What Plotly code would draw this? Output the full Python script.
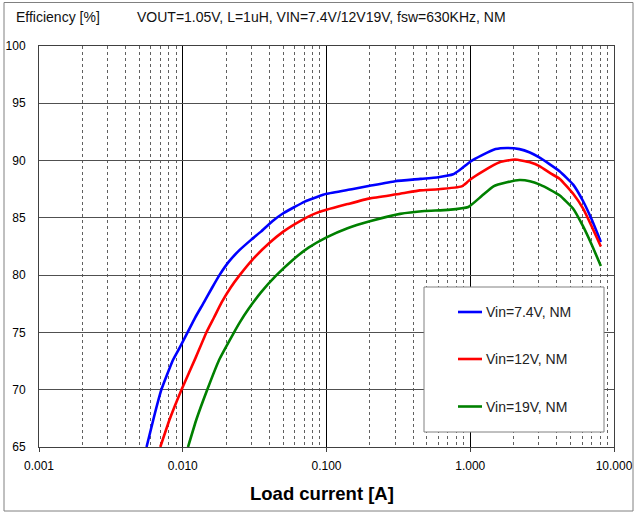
import plotly.graph_objects as go

W, H = 638, 514
ML, MR, MT, MB = 39, 24, 46, 67
PW, PH = W - ML - MR, H - MT - MB

# ---------------- data ----------------
series_names = ["Vin=7.4V, NM", "Vin=12V, NM", "Vin=19V, NM"]
series_colors = ["#0000FF", "#FF0000", "#008000"]

load_74 = [0.0056, 0.0063, 0.0071, 0.00855, 0.0095, 0.0108, 0.0122, 0.014, 0.016, 0.018, 0.021,
           0.0249, 0.03, 0.035, 0.042, 0.05, 0.06, 0.07, 0.085,
           0.1, 0.15, 0.2, 0.3, 0.45, 0.6, 0.76, 0.85, 1.0, 1.2, 1.5, 1.8, 2.2, 2.6,
           3.0, 3.6, 4.2, 5.2, 6.1, 7.0, 8.1]
eff_74 = [65.0, 67.6, 70.0, 72.6, 73.65, 75.0, 76.3, 77.6, 78.9, 80.0, 81.2,
          82.2, 83.1, 83.8, 84.7, 85.4, 85.95, 86.4, 86.8,
          87.1, 87.5, 87.8, 88.2, 88.4, 88.55, 88.8, 89.2, 89.9, 90.45, 91.0, 91.1, 91.0, 90.7,
          90.3, 89.65, 89.05, 87.9, 86.45, 84.85, 82.9]

load_12 = [0.00698, 0.0081, 0.0098, 0.0123, 0.0146, 0.0165, 0.0186, 0.0215, 0.0249, 0.0308,
           0.04, 0.05, 0.065, 0.0807,
           0.1, 0.14, 0.2, 0.325, 0.446, 0.6, 0.87, 0.95, 1.0, 1.2, 1.6, 2.05, 2.6, 3.05, 3.6,
           4.2, 5.2, 6.1, 7.0, 8.1]
eff_12 = [65.0, 67.4, 70.0, 72.8, 75.0, 76.3, 77.6, 78.9, 80.0, 81.4,
          82.8, 83.8, 84.7, 85.3,
          85.7, 86.2, 86.7, 87.1, 87.4, 87.5, 87.75, 88.1, 88.35, 89.0, 89.85, 90.1, 89.85, 89.5, 88.9,
          88.4, 87.1, 85.8, 84.25, 82.5]

load_19 = [0.01088, 0.01244, 0.0148, 0.0179, 0.0225, 0.025, 0.0285, 0.035, 0.0449, 0.0585,
           0.075, 0.1, 0.14, 0.2,
           0.325, 0.48, 0.7, 0.97, 1.2, 1.45, 1.8, 2.2, 2.6, 3.05, 3.6, 4.2, 5.2, 6.1,
           7.0, 8.1]
eff_19 = [65.0, 67.4, 70.0, 72.6, 74.9, 75.9, 77.0, 78.5, 80.0, 81.35,
          82.4, 83.3, 84.1, 84.7,
          85.35, 85.6, 85.7, 85.95, 86.9, 87.75, 88.1, 88.3, 88.2, 87.9, 87.45, 86.95, 85.8, 84.25,
          82.65, 80.8]

x_tick_vals = [0.001, 0.01, 0.1, 1, 10]
x_tick_text = ["0.001", "0.010", "0.100", "1.000", "10.000"]
y_tick_vals = [65, 70, 75, 80, 85, 90, 95, 100]
y_tick_text = ["65", "70", "75", "80", "85", "90", "95", "100"]

x_title = "Load current [A]"
y_title = "Efficiency [%]"
chart_title = "VOUT=1.05V, L=1uH, VIN=7.4V/12V19V, fsw=630KHz, NM"

loads = [load_74, load_12, load_19]
effs = [eff_74, eff_12, eff_19]

# minor grid positions (2..9 within each decade)
x_minor_vals = [m * d for d in x_tick_vals[:-1] for m in range(2, 10)]

FONT = "Liberation Sans, Arial, sans-serif"


def px(xp):
    return (xp - ML) / PW


def py(yp):
    return (H - MB - yp) / PH


fig = go.Figure()
for name, color, xs, ys in zip(series_names, series_colors, loads, effs):
    fig.add_trace(go.Scatter(
        x=xs, y=ys, name=name, mode="lines",
        line=dict(color=color, width=2.6, shape="spline", smoothing=0.4),
        showlegend=False, cliponaxis=True, hoverinfo="skip",
    ))

shapes = []
annotations = []

# outer frame
shapes.append(dict(type="rect", xref="paper", yref="paper",
                   x0=px(4), x1=px(633), y0=py(2.5), y1=py(511),
                   line=dict(color="#808080", width=1), fillcolor="rgba(0,0,0,0)",
                   layer="above"))

# legend box (manual)
shapes.append(dict(type="rect", xref="paper", yref="paper",
                   x0=px(424), x1=px(604), y0=py(287), y1=py(432),
                   line=dict(color="#808080", width=1), fillcolor="white",
                   layer="above"))
legend_rows = [312, 359, 406.5]
for name, color, ry in zip(series_names, series_colors, legend_rows):
    shapes.append(dict(type="line", xref="paper", yref="paper",
                       x0=px(458), x1=px(482), y0=py(ry), y1=py(ry),
                       line=dict(color=color, width=2.6), layer="above"))
    annotations.append(dict(text=name, xref="paper", yref="paper",
                            x=px(484), y=py(ry), xanchor="left", yanchor="middle",
                            showarrow=False,
                            font=dict(family=FONT, size=14, color="#222222")))

# top texts
annotations.append(dict(text=y_title, xref="paper", yref="paper",
                        x=px(14), y=py(17), xanchor="left", yanchor="middle",
                        showarrow=False, font=dict(family=FONT, size=14, color="#111111")))
annotations.append(dict(text=chart_title, xref="paper", yref="paper",
                        x=px(135), y=py(17), xanchor="left", yanchor="middle",
                        showarrow=False, font=dict(family=FONT, size=14, color="#111111")))
# x-axis title
annotations.append(dict(text="<b>" + x_title + "</b>", xref="paper", yref="paper",
                        x=px(322), y=py(494), xanchor="center", yanchor="middle",
                        showarrow=False, font=dict(family=FONT, size=18.5, color="#000000")))

fig.update_layout(
    width=W, height=H, autosize=False,
    margin=dict(l=ML, r=MR, t=MT, b=MB, pad=0, autoexpand=False),
    paper_bgcolor="white", plot_bgcolor="white",
    shapes=shapes, annotations=annotations,
    showlegend=False, hovermode=False,
    font=dict(family=FONT, size=12, color="#000000"),
)

fig.update_xaxes(
    type="log", range=[-3, 1], automargin=False,
    tickmode="array", tickvals=x_tick_vals, ticktext=x_tick_text,
    showgrid=True, gridcolor="#000000", gridwidth=1,
    showline=True, linecolor="#404040", linewidth=1, mirror=True,
    ticks="outside", ticklen=4, tickcolor="#404040", tickwidth=1,
    tickfont=dict(family=FONT, size=12, color="#000000"),
    ticklabelstandoff=4,
    zeroline=False,
    minor=dict(tickmode="array", tickvals=x_minor_vals, showgrid=True,
               gridcolor="#606060", gridwidth=1, griddash="3px,3px", ticks=""),
)
fig.update_yaxes(
    range=[65, 100], automargin=False,
    tickmode="array", tickvals=y_tick_vals, ticktext=y_tick_text,
    showgrid=True, gridcolor="#505050", gridwidth=1,
    showline=True, linecolor="#404040", linewidth=1, mirror=True,
    ticks="", ticklabelstandoff=10,
    tickfont=dict(family=FONT, size=12, color="#000000"),
    zeroline=False,
)

fig.write_html("out.html", config={"displayModeBar": False, "staticPlot": True},
               post_script="document.body.style.margin='0';")
